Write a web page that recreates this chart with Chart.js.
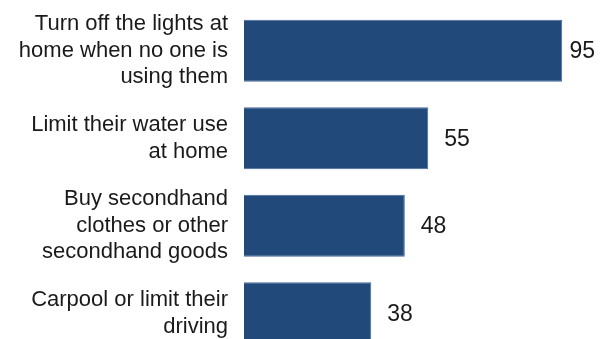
<!DOCTYPE html>
<html>
<head>
<meta charset="utf-8">
<script src="https://cdn.jsdelivr.net/npm/chart.js@4"></script>
<style>
  html, body { margin: 0; padding: 0; background: #fff; }
  #wrap { width: 602px; height: 339px; overflow: hidden; }
  #box { position: relative; width: 602px; height: 358px; }
</style>
</head>
<body>
<div id="wrap">
  <div id="box"><canvas id="actions-chart"></canvas></div>
</div>
<script>
// what people say they do, share of adults (%)
var categories = [
  ["Turn off the lights at", "home when no one is", "using them"],
  ["Limit their water use", "at home"],
  ["Buy secondhand", "clothes or other", "secondhand goods"],
  ["Carpool or limit their", "driving"]
];
var values = [95, 55, 48, 38];

var barColor = "#214a7b";
var barEdge = "#46699a";
var textColor = "#1a1a1a";
var fontFamily = "'Liberation Sans', Arial, sans-serif";

// value next to each bar, pulled back in if it would run off the canvas
var valueLabels = {
  id: "valueLabels",
  afterDatasetsDraw: function(chart) {
    var ctx = chart.ctx;
    var meta = chart.getDatasetMeta(0);
    ctx.save();
    ctx.font = "23px " + fontFamily;
    ctx.fillStyle = textColor;
    ctx.textBaseline = "middle";
    ctx.textAlign = "left";
    meta.data.forEach(function(bar, i) {
      var txt = String(values[i]);
      var w = ctx.measureText(txt).width;
      var x = bar.x + 16;
      if (x + w > chart.width - 7) {
        x = chart.width - 7 - w;
      }
      ctx.fillText(txt, x, bar.y + 1);
    });
    ctx.restore();
  }
};

var config = {
  type: "bar",
  data: {
    labels: categories,
    datasets: [
      {
        data: values,
        backgroundColor: barColor,
        borderColor: barEdge,
        borderWidth: 1,
        categoryPercentage: 1,
        barPercentage: 0.709,
      }
    ],
  },
  options: {
    indexAxis: "y",
    maintainAspectRatio: false,
    responsive: true,
    animation: false,
    layout: {
      padding: { top: 7, bottom: 1, right: 23, left: 0 },
    },
    plugins: {
      legend: { display: false },
      tooltip: { enabled: false },
    },
    scales: {
      x: {
        display: false,
        min: 0,
        max: 100,
      },
      y: {
        grid: { display: false, drawTicks: false },
        border: { display: false },
        ticks: {
          color: textColor,
          padding: 16,
          font: { family: fontFamily, size: 22, lineHeight: 1.2 },
        },
        afterFit: function(scale) {
          // fixed label column, and no extra room for the tall first/last labels
          scale.width = 244;
          scale.paddingTop = 0;
          scale.paddingBottom = 0;
        },
      },
    },
  },
  plugins: [valueLabels],
};

var ctx = document.getElementById("actions-chart").getContext("2d");
new Chart(ctx, config);
</script>
</body>
</html>
